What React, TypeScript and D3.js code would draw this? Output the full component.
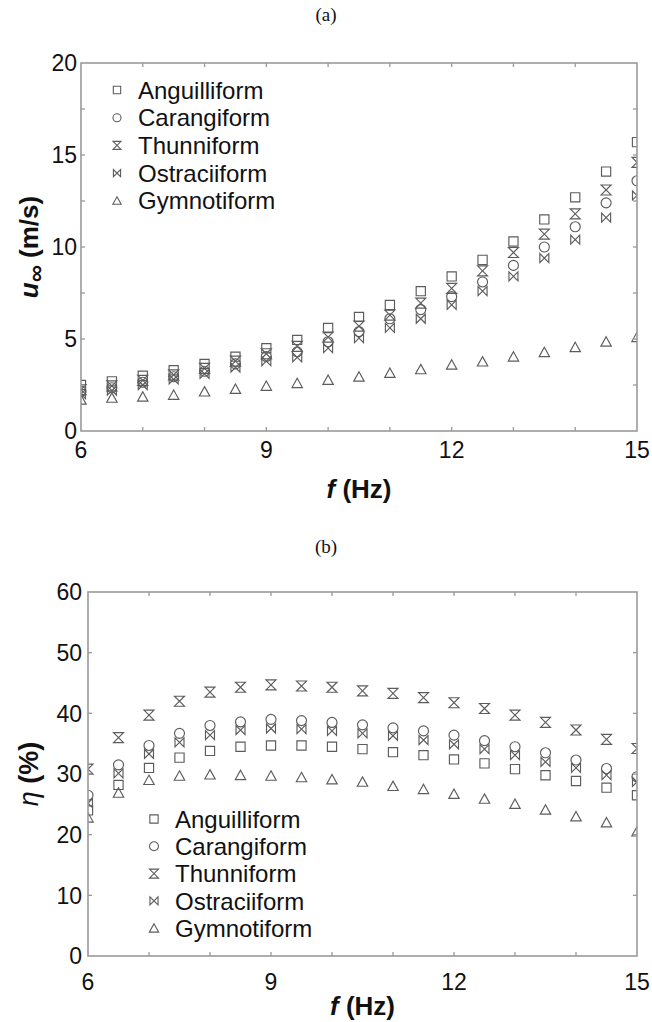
import React from 'react';
import * as d3 from 'd3';

// ---------- DATA ----------
const freqs = [6, 6.5, 7, 7.5, 8, 8.5, 9, 9.5, 10, 10.5, 11, 11.5, 12, 12.5, 13, 13.5, 14, 14.5, 15];
const seriesNames = ['Anguilliform', 'Carangiform', 'Thunniform', 'Ostraciiform', 'Gymnotiform'];
const markerTypes = ['square', 'circle', 'hourglass', 'bowtie', 'triangle'];

// (a) swimming speed u (m/s)
const uAnguilliform = [2.5, 2.7, 3.0, 3.3, 3.64, 4.04, 4.5, 4.95, 5.6, 6.2, 6.85, 7.6, 8.4, 9.3, 10.3, 11.5, 12.7, 14.1, 15.7];
const uCarangiform = [2.15, 2.35, 2.65, 2.95, 3.25, 3.65, 4.05, 4.3, 4.85, 5.4, 6.1, 6.6, 7.3, 8.1, 9.0, 10.0, 11.1, 12.4, 13.6];
const uThunniform = [2.25, 2.45, 2.75, 3.05, 3.4, 3.8, 4.2, 4.6, 5.1, 5.7, 6.3, 6.95, 7.75, 8.7, 9.7, 10.7, 11.8, 13.1, 14.6];
const uOstraciiform = [2.0, 2.2, 2.5, 2.8, 3.1, 3.45, 3.8, 4.0, 4.5, 5.05, 5.6, 6.1, 6.85, 7.6, 8.4, 9.4, 10.4, 11.6, 12.8];
const uGymnotiform = [1.7, 1.8, 1.86, 1.96, 2.14, 2.28, 2.45, 2.6, 2.77, 2.95, 3.15, 3.35, 3.6, 3.77, 4.04, 4.28, 4.55, 4.85, 5.1];

// (b) efficiency eta (%)
const etaAnguilliform = [24.0, 28.2, 31.0, 32.7, 33.8, 34.5, 34.7, 34.7, 34.5, 34.1, 33.6, 33.1, 32.4, 31.75, 30.8, 29.8, 28.85, 27.75, 26.5];
const etaCarangiform = [26.5, 31.5, 34.7, 36.7, 38.0, 38.6, 39.0, 38.8, 38.5, 38.1, 37.6, 37.1, 36.4, 35.5, 34.5, 33.5, 32.3, 30.9, 29.55];
const etaThunniform = [30.8, 36.0, 39.7, 42.0, 43.5, 44.3, 44.7, 44.5, 44.3, 43.7, 43.3, 42.6, 41.75, 40.8, 39.7, 38.5, 37.25, 35.7, 34.2];
const etaOstraciiform = [25.2, 30.1, 33.3, 35.2, 36.4, 37.25, 37.5, 37.4, 37.1, 36.7, 36.3, 35.6, 34.9, 34.1, 33.1, 32.0, 31.0, 29.8, 28.7];
const etaGymnotiform = [22.8, 26.9, 29.0, 29.7, 29.9, 29.8, 29.7, 29.45, 29.1, 28.7, 28.0, 27.5, 26.7, 25.9, 25.05, 24.1, 23.0, 22.0, 20.5];

const xMajorTicks = [6, 9, 12, 15];
const xMinorTicks = [7, 8, 10, 11, 13, 14];
const uMajorTicks = [0, 5, 10, 15, 20];
const uMinorTicks = [2.5, 7.5, 12.5, 17.5];
const etaMajorTicks = [0, 10, 20, 30, 40, 50, 60];

const FONT = '"Liberation Sans", Arial, Helvetica, sans-serif';
const MARK = '#5c5c5c';
const AXIS = '#9a9a9a';

function markerPath(type: string, k: number): string {
  const s = 5 * k;
  switch (type) {
    case 'square': {
      const h = 4.6 * k;
      return `M${-h},${-h}H${h}V${h}H${-h}Z`;
    }
    case 'circle': {
      const r = 5 * k;
      return `M${r},0A${r},${r} 0 1,1 ${-r},0A${r},${r} 0 1,1 ${r},0Z`;
    }
    case 'hourglass':
      return `M${-s},${-s}H${s}L${-s},${s}H${s}Z`;
    case 'bowtie': {
      const h = 4.5 * k;
      return `M${-h},${-h}V${h}L${h},${-h}V${h}Z`;
    }
    case 'triangle':
    default: {
      const w = 5.2 * k;
      return `M0,${-5 * k}L${w},${4.4 * k}L${-w},${4.4 * k}Z`;
    }
  }
}

type PanelProps = {
  id: string;
  left: number; right: number; top: number; bottom: number;
  yDomain: [number, number];
  yMajor: number[]; yMinor: number[];
  series: number[][];
  legendX: number; legendY: number; legendStep: number; legendK: number;
  xTitleY: number; yTitleX: number;
  yTitle: React.ReactNode;
  xLabelY: number; yLabelGap: number;
};

function Panel(p: PanelProps) {
  const x = d3.scaleLinear().domain([6, 15]).range([p.left, p.right]);
  const y = d3.scaleLinear().domain(p.yDomain).range([p.bottom, p.top]);
  const tl = 4;
  const xt = [...xMajorTicks, ...xMinorTicks];
  const yt = [...p.yMajor, ...p.yMinor];
  const cx = (p.left + p.right) / 2;
  const cy = (p.top + p.bottom) / 2;
  return (
    <g>
      <defs>
        <clipPath id={p.id}>
          <rect x={p.left} y={p.top} width={p.right - p.left} height={p.bottom - p.top} />
        </clipPath>
      </defs>
      {/* markers */}
      <g clipPath={`url(#${p.id})`}>
        {p.series.map((vals, si) => (
          <g key={si}>
            {vals.map((v, i) => (
              <path key={i} d={markerPath(markerTypes[si], 1)} transform={`translate(${x(freqs[i])},${y(v)})`}
                fill="none" stroke={MARK} strokeWidth={1.15} />
            ))}
          </g>
        ))}
      </g>
      {/* frame */}
      <rect x={p.left} y={p.top} width={p.right - p.left} height={p.bottom - p.top} fill="none" stroke={AXIS} strokeWidth={1.6} />
      {xt.filter(t => t > 6 && t < 15).map(t => (
        <g key={'xt' + t}>
          <line x1={x(t)} x2={x(t)} y1={p.bottom} y2={p.bottom - tl} stroke={AXIS} strokeWidth={1.3} />
          <line x1={x(t)} x2={x(t)} y1={p.top} y2={p.top + tl} stroke={AXIS} strokeWidth={1.3} />
        </g>
      ))}
      {yt.filter(t => t > p.yDomain[0] && t < p.yDomain[1]).map(t => (
        <g key={'yt' + t}>
          <line x1={p.left} x2={p.left + tl} y1={y(t)} y2={y(t)} stroke={AXIS} strokeWidth={1.3} />
          <line x1={p.right} x2={p.right - tl} y1={y(t)} y2={y(t)} stroke={AXIS} strokeWidth={1.3} />
        </g>
      ))}
      {/* tick labels */}
      {xMajorTicks.map(t => (
        <text key={'xl' + t} x={x(t)} y={p.xLabelY} textAnchor="middle" fontFamily={FONT} fontSize={23} fill="#111">{t}</text>
      ))}
      {p.yMajor.map(t => (
        <text key={'yl' + t} x={p.left - p.yLabelGap} y={y(t)} dy="0.36em" textAnchor="end" fontFamily={FONT} fontSize={23} fill="#111">{t}</text>
      ))}
      {/* axis titles */}
      <text x={cx} y={p.xTitleY} textAnchor="middle" fontFamily={FONT} fontSize={26} fontWeight="bold" fill="#111">
        <tspan fontStyle="italic">f</tspan> (Hz)
      </text>
      <g transform={`translate(${p.yTitleX},${cy}) rotate(-90)`}>
        {p.yTitle}
      </g>
      {/* legend */}
      {seriesNames.map((name, i) => (
        <g key={name} transform={`translate(${p.legendX},${p.legendY + i * p.legendStep})`}>
          <path d={markerPath(markerTypes[i], p.legendK)} fill="none" stroke={MARK} strokeWidth={1.1} />
          <text x={21} y={0} dy="0.36em" fontFamily={FONT} fontSize={24} fill="#111">{name}</text>
        </g>
      ))}
    </g>
  );
}

export default function App() {
  return (
    <svg width={652} height={1022} viewBox="0 0 652 1022"
      style={{ position: 'absolute', left: 0, top: 0, background: '#fff', display: 'block' }}>
      <rect width={652} height={1022} fill="#fff" />
      <text x={326} y={21} textAnchor="middle" fontFamily='"Liberation Serif", "Times New Roman", serif' fontSize={19} fill="#111">(a)</text>
      <text x={326} y={553} textAnchor="middle" fontFamily='"Liberation Serif", "Times New Roman", serif' fontSize={19} fill="#111">(b)</text>
      <Panel id="clipA" left={81} right={637} top={63} bottom={431}
        yDomain={[0, 20]} yMajor={uMajorTicks} yMinor={uMinorTicks}
        series={[uAnguilliform, uCarangiform, uThunniform, uOstraciiform, uGymnotiform]}
        legendX={117} legendY={90} legendStep={27.7} legendK={0.8}
        xTitleY={498} yTitleX={38} xLabelY={458} yLabelGap={4}
        yTitle={
          <text textAnchor="middle" fontFamily={FONT} fontSize={26} fontWeight="bold" fill="#111">
            <tspan fontStyle="italic">u</tspan>
            <tspan fontStyle="italic" fontSize={24} dy={6}>∞</tspan>
            <tspan dy={-6}> (m/s)</tspan>
          </text>
        }
      />
      <Panel id="clipB" left={88} right={637} top={592} bottom={956}
        yDomain={[0, 60]} yMajor={etaMajorTicks} yMinor={[]}
        series={[etaAnguilliform, etaCarangiform, etaThunniform, etaOstraciiform, etaGymnotiform]}
        legendX={154} legendY={819} legendStep={27.3} legendK={0.9}
        xTitleY={1015} yTitleX={38} xLabelY={990} yLabelGap={6}
        yTitle={
          <text textAnchor="middle" fontFamily={FONT} fontSize={27} fontWeight="bold" fill="#111">
            <tspan fontStyle="italic" fontWeight="normal">η</tspan> (%)
          </text>
        }
      />
    </svg>
  );
}
